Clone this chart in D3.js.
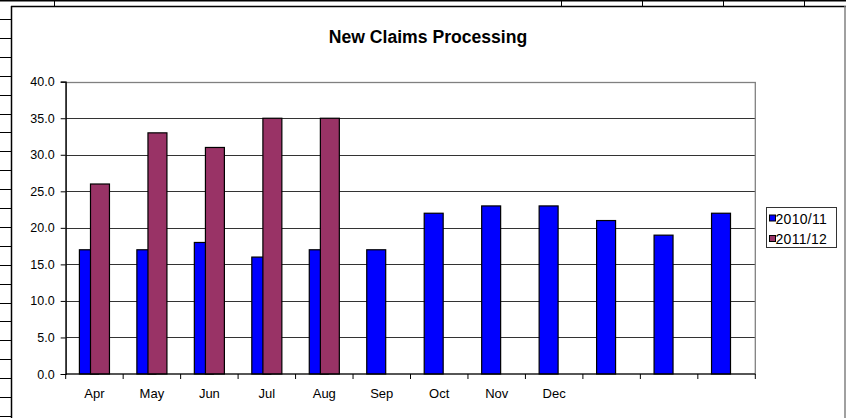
<!DOCTYPE html>
<html>
<head>
<meta charset="utf-8">
<script src="https://cdn.jsdelivr.net/npm/d3@7"></script>
<style>
  html, body { margin: 0; padding: 0; background: #fff; }
  svg { display: block; }
  text { font-family: "Liberation Sans", Arial, sans-serif; }
</style>
</head>
<body>
<svg id="chart" width="846" height="418"></svg>
<script>
// ---- data ----
const categories = ["Apr","May","Jun","Jul","Aug","Sep","Oct","Nov","Dec","Jan","Feb","Mar"];
const tickLabels = ["Apr","May","Jun","Jul","Aug","Sep","Oct","Nov","Dec","","",""];
const seriesNames = ["2010/11", "2011/12"];
const values2010 = [17, 17, 18, 16, 17, 17, 22, 23, 23, 21, 19, 22];
const values2011 = [26, 33, 31, 35, 35, null, null, null, null, null, null, null];
const yTicks = [0, 5, 10, 15, 20, 25, 30, 35, 40];
const seriesColors = ["#0000FF", "#993366"];

const svg = d3.select("#chart");
const W = 846, H = 418;

// ---- spreadsheet background ----
const bg = svg.append("g");
bg.append("line").attr("x1", 0).attr("x2", W).attr("y1", 0.75).attr("y2", 0.75)
  .attr("stroke", "#000").attr("stroke-width", 1.5);
[54, 561, 642, 723, 804].forEach(x => {
  bg.append("line").attr("x1", x + 0.5).attr("x2", x + 0.5).attr("y1", 0).attr("y2", 6)
    .attr("stroke", "#000").attr("stroke-width", 1);
});
d3.range(0, 23).forEach(i => {
  const y = Math.round(19 + i * 18.9) + 0.5;
  if (y < H) bg.append("line").attr("x1", 0).attr("x2", 11).attr("y1", y).attr("y2", y)
    .attr("stroke", "#000").attr("stroke-width", 1);
});

// ---- chart frame ----
svg.append("line").attr("x1", 11).attr("x2", 846).attr("y1", 6.5).attr("y2", 6.5)
  .attr("stroke", "#000").attr("stroke-width", 1.5);
svg.append("line").attr("x1", 845).attr("x2", 845).attr("y1", 6).attr("y2", H)
  .attr("stroke", "#808080").attr("stroke-width", 1.5);
svg.append("line").attr("x1", 11.5).attr("x2", 11.5).attr("y1", 6).attr("y2", H)
  .attr("stroke", "#000").attr("stroke-width", 1.5);

// ---- title ----
svg.append("text").attr("x", 428).attr("y", 43)
  .attr("text-anchor", "middle").attr("font-weight", "bold").attr("font-size", 17.6)
  .text("New Claims Processing");

// ---- scales ----
const plot = { left: 65.7, right: 755.3, top: 81.7, bottom: 374 };
const x = d3.scaleBand().domain(categories).range([plot.left, plot.right]).paddingInner(0).paddingOuter(0);
const y = d3.scaleLinear().domain([0, 40]).range([plot.bottom, plot.top]);
const bw = x.bandwidth();
const barW = bw * 0.33;
const shift = bw * 0.0965;

// gridlines
svg.append("g").selectAll("line").data(yTicks.filter(d => d > 0)).join("line")
  .attr("x1", plot.left).attr("x2", plot.right)
  .attr("y1", d => Math.round(y(d)) + 0.5).attr("y2", d => Math.round(y(d)) + 0.5)
  .attr("stroke", "#333").attr("stroke-width", 1);

// plot border (grey)
svg.append("rect").attr("x", plot.left).attr("y", Math.round(plot.top) + 0.5)
  .attr("width", plot.right - plot.left).attr("height", plot.bottom - Math.round(plot.top) - 0.5)
  .attr("fill", "none").attr("stroke", "#808080").attr("stroke-width", 1.3);

// bars
const series = [values2010, values2011];
series.forEach((vals, si) => {
  const off = si === 0 ? -shift : shift;
  svg.append("g").selectAll("rect")
    .data(categories.map((c, i) => ({ c, v: vals[i] })).filter(d => d.v != null))
    .join("rect")
    .attr("x", d => x(d.c) + bw / 2 + off - barW / 2)
    .attr("y", d => y(d.v))
    .attr("width", barW)
    .attr("height", d => y(0) - y(d.v))
    .attr("fill", seriesColors[si])
    .attr("stroke", "#000").attr("stroke-width", 1.2);
});

// y axis
const yAxis = d3.axisLeft(y).tickValues(yTicks).tickFormat(d3.format(".1f")).tickSize(5).tickPadding(6);
const gy = svg.append("g").attr("transform", `translate(${plot.left},0)`).call(yAxis);
gy.select(".domain").attr("stroke", "#000").attr("stroke-width", 1.2);
gy.selectAll(".tick line").attr("stroke", "#000");
gy.selectAll("text").attr("font-size", 12.5).attr("fill", "#000")
  .attr("font-family", "'Liberation Sans', Arial, sans-serif");

// x axis: line + boundary ticks
const boundaries = categories.map(c => x(c)).concat([plot.right]);
svg.append("line").attr("x1", plot.left).attr("x2", plot.right)
  .attr("y1", plot.bottom).attr("y2", plot.bottom).attr("stroke", "#000").attr("stroke-width", 1.2);
svg.append("g").selectAll("line").data(boundaries).join("line")
  .attr("x1", d => d).attr("x2", d => d).attr("y1", plot.bottom).attr("y2", plot.bottom + 5)
  .attr("stroke", "#000").attr("stroke-width", 1);
svg.append("g").selectAll("text").data(categories).join("text")
  .attr("x", d => x(d) + bw / 2).attr("y", 398)
  .attr("text-anchor", "middle").attr("font-size", 13).attr("fill", "#000")
  .text((d, i) => tickLabels[i]);

// legend
const lg = svg.append("g");
lg.append("rect").attr("x", 766.5).attr("y", 207.5).attr("width", 70).attr("height", 40)
  .attr("fill", "#fff").attr("stroke", "#333").attr("stroke-width", 1);
seriesNames.forEach((name, i) => {
  const cy = 218.5 + i * 20.5;
  lg.append("rect").attr("x", 769.5).attr("y", cy - 3.5).attr("width", 6).attr("height", 6)
    .attr("fill", seriesColors[i]).attr("stroke", "#000").attr("stroke-width", 1);
  lg.append("text").attr("x", 775.5).attr("y", cy + 5).attr("font-size", 14)
    .attr("letter-spacing", 0.3).attr("fill", "#000").text(name);
});
</script>
</body>
</html>
